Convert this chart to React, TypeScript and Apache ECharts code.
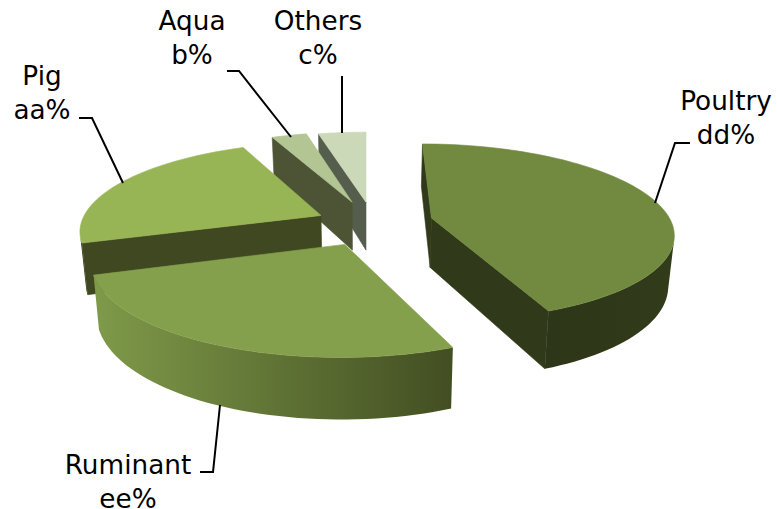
import React, { useEffect, useRef } from "react";
import * as echarts from "echarts";

const categories = ["Poultry", "Ruminant", "Pig", "Aqua", "Others"];
const valueLabels = ["dd%", "ee%", "aa%", "b%", "c%"];
const shares = [43.8, 26.2, 23.4, 2.8, 3.8];

// Layout and styling of the 3D pie (not data)
const paintOrder = [4, 3, 2, 0, 1];
const explodeX = [0.275, -0.085, -0.19, -0.06, 0];
const explodeY = [0.08, -0.213, 0.11, 0.27, 0.27];
const topColors = ["#728a3f", "#85a04c", "#98b555", "#b2c592", "#cbd9b9"];
const wallColors = ["#303a1a", "#445023", "#3f4821", "#4c5435", "#555e4d"];
const rimLeft = ["#2c3618", "#7f9a49", "#3f4821", "#4c5435", "#555e4d"];
const rimRight = ["#323c1b", "#424e22", "#3f4821", "#4c5435", "#555e4d"];
const labelX = [726, 128, 42, 192, 318];
const labelY = [101, 465, 76, 21, 21];
const valueY = [135, 499, 110, 55, 55];
const leaders = [
  [[690, 143], [675, 143], [655, 203]],
  [[200, 472], [213, 472], [220, 405]],
  [[79, 118], [92, 118], [123, 183]],
  [[227, 71], [239, 71], [291, 137]],
  [[342, 76], [342, 133]],
];

const CX = 366, CY = 225, A = 241, B = 88, P = 0.16, H = 50, SHRINK = 0.98;

function top(X: number, Y: number) {
  const w = 1 + P * Y;
  return { x: CX + (X * A) / w, y: CY - (Y * B) / w, w };
}
function bottom(p: { x: number; y: number; w: number }) {
  return { x: CX + (p.x - CX) * SHRINK, y: p.y + H / p.w, w: p.w };
}
const pt = (p: { x: number; y: number }) => [p.x, p.y];

function renderSlice(params: any) {
  const i = paintOrder[params.dataIndex];
  const total = shares.reduce((s, v) => s + v, 0);
  const before = shares.slice(0, i).reduce((s, v) => s + v, 0);
  const t0 = (before / total) * Math.PI * 2;
  const t1 = ((before + shares[i]) / total) * Math.PI * 2;
  const ex = explodeX[i], ey = explodeY[i];
  const apex = top(ex, ey);
  const n = Math.max(12, Math.round((t1 - t0) * 30));
  const rim: any[] = [];
  for (let k = 0; k <= n; k++) {
    const t = t0 + ((t1 - t0) * k) / n;
    rim.push(top(ex + Math.sin(t), ey + Math.cos(t)));
  }
  const facing = (a: any, b: any) => {
    const ab = bottom(a), bb = bottom(b);
    const vx = (ab.x + bb.x) / 2 - (a.x + b.x) / 2;
    const vy = (ab.y + bb.y) / 2 - (a.y + b.y) / 2;
    return (b.y - a.y) * vx - (b.x - a.x) * vy > 0;
  };
  const poly = (points: number[][], fill: any) => ({
    type: "polygon",
    shape: { points },
    style: { fill, stroke: fill, lineWidth: 0.6 },
  });
  const children: any[] = [];
  const quad = (a: any, b: any) => [pt(a), pt(b), pt(bottom(b)), pt(bottom(a))];
  if (facing(apex, rim[0])) children.push(poly(quad(apex, rim[0]), wallColors[i]));
  if (facing(rim[n], apex)) children.push(poly(quad(rim[n], apex), wallColors[i]));
  let run: any[] = [];
  const flush = () => {
    if (run.length > 1) {
      const fill = new echarts.graphic.LinearGradient(0, 0, 1, 0, [
        { offset: 0, color: rimLeft[i] },
        { offset: 1, color: rimRight[i] },
      ]);
      const pts = run.map(pt).concat(run.slice().reverse().map((p) => pt(bottom(p))));
      children.push({
        type: "polygon",
        shape: { points: pts },
        style: { fill },
      });
    }
    run = [];
  };
  for (let k = 0; k < n; k++) {
    if (facing(rim[k], rim[k + 1])) {
      if (run.length === 0) run.push(rim[k]);
      run.push(rim[k + 1]);
    } else flush();
  }
  flush();
  children.push(poly([pt(apex), ...rim.map(pt)], topColors[i]));
  return { type: "group", children };
}

export default function App() {
  const ref = useRef<HTMLDivElement>(null);
  useEffect(() => {
    document.body.style.margin = "0";
    const chart = echarts.init(ref.current!, undefined, { renderer: "svg" });
    const textStyle = (text: string) => ({
      text,
      fill: "#000000",
      font: '26.3px "DejaVu Sans"',
      lineHeight: 22,
      align: "center",
      verticalAlign: "middle",
    });
    chart.setOption({
      animation: false,
      backgroundColor: "#ffffff",
      series: [
        {
          type: "custom",
          coordinateSystem: "none",
          silent: true,
          renderItem: renderSlice,
          data: paintOrder.map((i) => ({ name: categories[i], value: shares[i] })),
          z: 1,
        },
      ],
      graphic: [
        ...leaders.map((points) => ({
          type: "polyline",
          z: 10,
          shape: { points },
          style: { stroke: "#000000", lineWidth: 2, fill: "none" },
        })),
        ...categories.map((c, i) => ({
          type: "text",
          z: 11,
          x: labelX[i],
          y: labelY[i],
          style: textStyle(c),
        })),
        ...valueLabels.map((c, i) => ({
          type: "text",
          z: 11,
          x: labelX[i],
          y: valueY[i],
          style: textStyle(c),
        })),
      ],
    });
    return () => chart.dispose();
  }, []);
  return <div ref={ref} style={{ width: 777, height: 509 }} />;
}
